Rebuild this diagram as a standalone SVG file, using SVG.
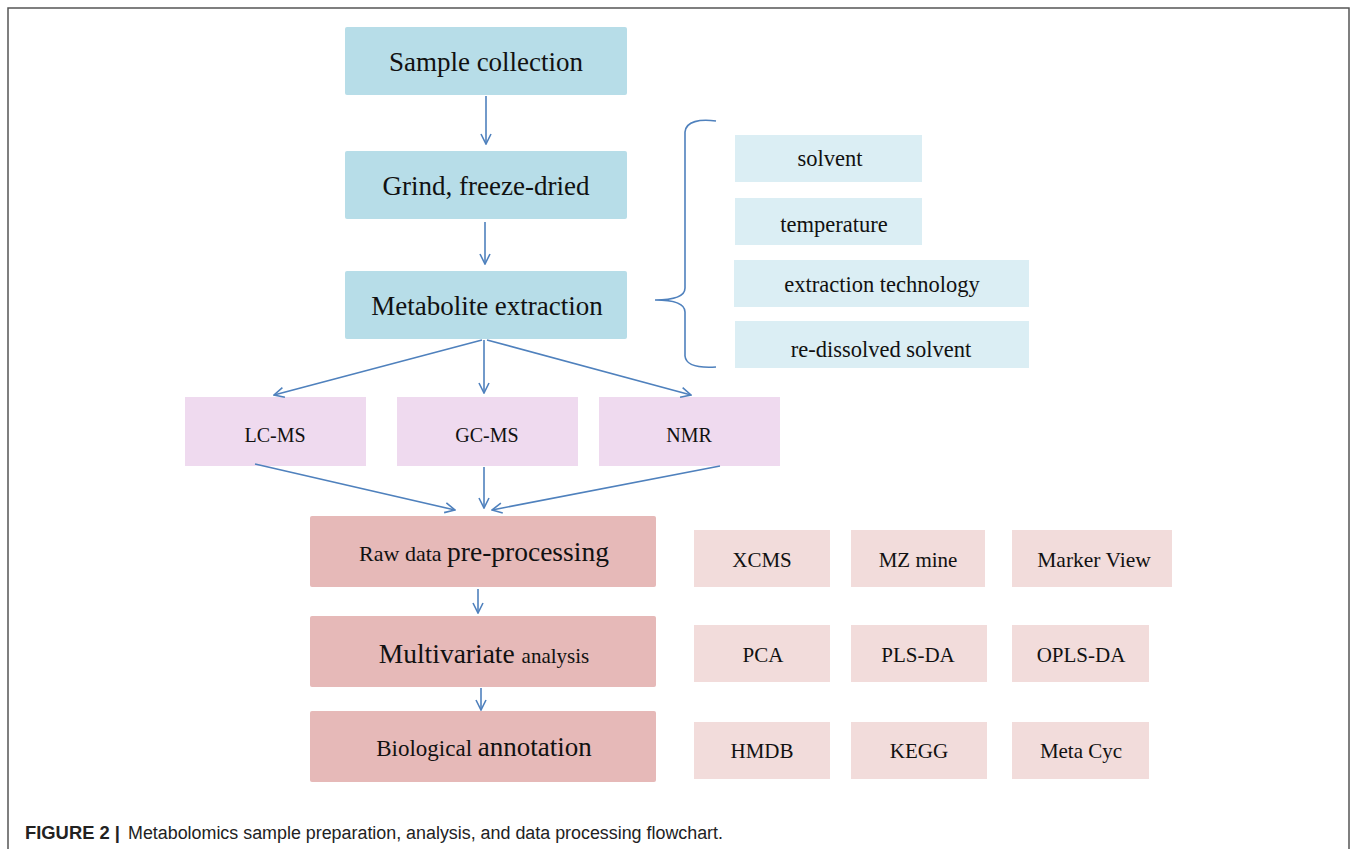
<svg xmlns="http://www.w3.org/2000/svg" width="1357" height="849" viewBox="0 0 1357 849">
<defs>
<marker id="ah" viewBox="0 0 12 12" refX="11" refY="6" markerWidth="12" markerHeight="12" markerUnits="userSpaceOnUse" orient="auto">
<path d="M1,1 L11,6 L1,11" fill="none" stroke="#4f81bd" stroke-width="1.6"/>
</marker>
</defs>
<style>
.t{font-family:"Liberation Serif","Times New Roman",serif;fill:#111;text-anchor:middle}
.blue{fill:#b7dde8}
.lblue{fill:#dbeef4}
.lav{fill:#efdaef}
.rose{fill:#e6b9b8}
.lrose{fill:#f2dcdb}
.c{stroke:#4f81bd;stroke-width:1.6;fill:none}
.cap{font-family:"Liberation Sans",Arial,sans-serif;font-size:18px;fill:#222}
</style>
<rect width="1357" height="849" fill="#fff"/>
<path d="M8,849 V8 H1349 V849" fill="none" stroke="#555" stroke-width="1.5"/>

<g id="n-sample"><rect class="blue" x="345" y="27" width="282" height="68" rx="2"/><text class="t" x="486" y="71" font-size="27">Sample collection</text></g>
<g id="n-grind"><rect class="blue" x="345" y="151" width="282" height="68" rx="2"/><text class="t" x="486" y="195" font-size="27">Grind, freeze-dried</text></g>
<g id="n-extract"><rect class="blue" x="345" y="271" width="282" height="68" rx="2"/><text class="t" x="487" y="315" font-size="27">Metabolite extraction</text></g>

<g id="n-solvent"><rect class="lblue" x="735" y="135" width="187" height="47"/><text class="t" x="830" y="166" font-size="22.5">solvent</text></g>
<g id="n-temp"><rect class="lblue" x="735" y="198" width="187" height="47"/><text class="t" x="834" y="232" font-size="22.5">temperature</text></g>
<g id="n-tech"><rect class="lblue" x="734" y="260" width="295" height="47"/><text class="t" x="882" y="292" font-size="22.5">extraction technology</text></g>
<g id="n-redis"><rect class="lblue" x="735" y="321" width="294" height="47"/><text class="t" x="881" y="357" font-size="22.5">re-dissolved solvent</text></g>

<g id="n-lcms"><rect class="lav" x="185" y="397" width="181" height="69"/><text class="t" x="275" y="442" font-size="20">LC-MS</text></g>
<g id="n-gcms"><rect class="lav" x="397" y="397" width="181" height="69"/><text class="t" x="487" y="442" font-size="20">GC-MS</text></g>
<g id="n-nmr"><rect class="lav" x="599" y="397" width="181" height="69"/><text class="t" x="689" y="442" font-size="20">NMR</text></g>

<g id="n-raw"><rect class="rose" x="310" y="516" width="346" height="71" rx="2"/><text class="t" x="484" y="561"><tspan font-size="22">Raw data </tspan><tspan font-size="27.5">pre-processing</tspan></text></g>
<g id="n-multi"><rect class="rose" x="310" y="616" width="346" height="71" rx="2"/><text class="t" x="484" y="663"><tspan font-size="27.5">Multivariate </tspan><tspan font-size="21">analysis</tspan></text></g>
<g id="n-bio"><rect class="rose" x="310" y="711" width="346" height="71" rx="2"/><text class="t" x="484" y="756"><tspan font-size="23">Biological </tspan><tspan font-size="27">annotation</tspan></text></g>

<g id="n-xcms"><rect class="lrose" x="694" y="530" width="136" height="57"/><text class="t" x="762" y="567" font-size="21">XCMS</text></g>
<g id="n-mzmine"><rect class="lrose" x="851" y="530" width="134" height="57"/><text class="t" x="918" y="567" font-size="21">MZ mine</text></g>
<g id="n-marker"><rect class="lrose" x="1012" y="530" width="160" height="57"/><text class="t" x="1094" y="567" font-size="21.5">Marker View</text></g>
<g id="n-pca"><rect class="lrose" x="694" y="625" width="136" height="57"/><text class="t" x="763" y="662" font-size="21">PCA</text></g>
<g id="n-plsda"><rect class="lrose" x="851" y="625" width="136" height="57"/><text class="t" x="918" y="662" font-size="21">PLS-DA</text></g>
<g id="n-oplsda"><rect class="lrose" x="1012" y="625" width="137" height="57"/><text class="t" x="1081" y="662" font-size="21">OPLS-DA</text></g>
<g id="n-hmdb"><rect class="lrose" x="694" y="722" width="136" height="57"/><text class="t" x="762" y="758" font-size="21">HMDB</text></g>
<g id="n-kegg"><rect class="lrose" x="851" y="722" width="136" height="57"/><text class="t" x="919" y="758" font-size="21">KEGG</text></g>
<g id="n-metacyc"><rect class="lrose" x="1012" y="722" width="137" height="57"/><text class="t" x="1081" y="758" font-size="21">Meta Cyc</text></g>

<g id="connectors">
<line class="c" x1="486" y1="96" x2="486" y2="144" marker-end="url(#ah)"/>
<line class="c" x1="485" y1="222" x2="485" y2="264" marker-end="url(#ah)"/>
<line class="c" x1="482" y1="340" x2="274" y2="395" marker-end="url(#ah)"/>
<line class="c" x1="484" y1="340" x2="484" y2="393" marker-end="url(#ah)"/>
<line class="c" x1="487" y1="340" x2="691" y2="395" marker-end="url(#ah)"/>
<line class="c" x1="255" y1="464" x2="455" y2="510" marker-end="url(#ah)"/>
<line class="c" x1="484" y1="467" x2="484" y2="508" marker-end="url(#ah)"/>
<line class="c" x1="720" y1="466" x2="492" y2="510" marker-end="url(#ah)"/>
<line class="c" x1="478" y1="589" x2="478" y2="613" marker-end="url(#ah)"/>
<line class="c" x1="481" y1="688" x2="481" y2="710" marker-end="url(#ah)"/>
<path class="c" d="M716,121 C700,119 686,121 685,132 L685,288 C685,296 675,300 655,300 C675,300 685,304 685,312 L685,356 C686,366 700,368 716,367"/>
</g>

<text class="cap" y="839"><tspan x="25" font-weight="bold" textLength="95" lengthAdjust="spacingAndGlyphs">FIGURE 2 |</tspan><tspan x="128" textLength="595" lengthAdjust="spacingAndGlyphs">Metabolomics sample preparation, analysis, and data processing flowchart.</tspan></text>
</svg>
